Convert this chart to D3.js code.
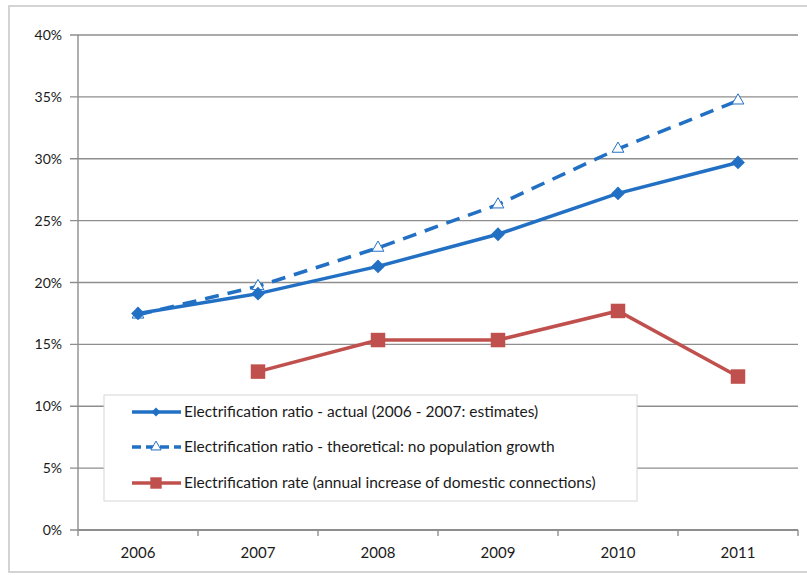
<!DOCTYPE html>
<html>
<head>
<meta charset="utf-8">
<script src="https://cdnjs.cloudflare.com/ajax/libs/d3/7.8.5/d3.min.js"></script>
<style>
  body { margin: 0; background: #fff; }
  text { font-family: Lato, "Open Sans", sans-serif; fill: #1a1a1a; }
</style>
</head>
<body>
<script>
// chart data
var years = ["2006", "2007", "2008", "2009", "2010", "2011"];
var actual = [17.5, 19.1, 21.3, 23.9, 27.2, 29.7];
var theoretical = [17.4, 19.7, 22.8, 26.3, 30.8, 34.7];
var rate = [null, 12.8, 15.35, 15.35, 17.7, 12.4];
var yTicks = [0, 5, 10, 15, 20, 25, 30, 35, 40];
var legendLabels = [
    "Electrification ratio - actual (2006 - 2007: estimates)",
    "Electrification ratio - theoretical: no population growth",
    "Electrification rate (annual increase of domestic connections)"
];

var width = 807;
var height = 575;
var blue = "#2270c4";
var red = "#c0504d";

var svg = d3.select("body").append("svg")
    .attr("width", width)
    .attr("height", height);

// outer frame
svg.append("rect")
    .attr("x", 9).attr("y", 6)
    .attr("width", 810).attr("height", 566)
    .attr("fill", "none")
    .attr("stroke", "#d4d4d4")
    .attr("stroke-width", 2);

var x = d3.scaleBand().domain(years).range([78, 798]);
var y = d3.scaleLinear().domain([0, 40]).range([530, 35]);

// gridlines
svg.append("g").selectAll("line")
    .data(yTicks)
    .enter()
    .append("line")
    .attr("x1", 70).attr("x2", 798)
    .attr("y1", d => y(d)).attr("y2", d => y(d))
    .attr("stroke", "#8e8e8e")
    .attr("stroke-width", 1.4);

// y labels
svg.append("g").selectAll("text")
    .data(yTicks)
    .enter()
    .append("text")
    .attr("x", 62)
    .attr("y", d => y(d) + 5)
    .attr("text-anchor", "end")
    .attr("font-size", "14px")
    .text(d => d + "%");

// y axis line
svg.append("line")
    .attr("x1", 78).attr("x2", 78)
    .attr("y1", y(40)).attr("y2", y(0))
    .attr("stroke", "#8e8e8e").attr("stroke-width", 1.4);

// x axis
var xAxis = svg.append("g").attr("transform", "translate(0," + y(0) + ")");
xAxis.append("line")
    .attr("x1", 78).attr("x2", 798)
    .attr("stroke", "#8e8e8e").attr("stroke-width", 2);
var xt = x.domain().map(d => x(d)).concat([x.range()[1]]);
xAxis.selectAll(".tk").data(xt).enter().append("line")
    .attr("x1", d => d).attr("x2", d => d)
    .attr("y1", 0).attr("y2", 6)
    .attr("stroke", "#8e8e8e").attr("stroke-width", 1.4);
xAxis.selectAll("text").data(years).enter().append("text")
    .attr("x", d => x(d) + x.bandwidth() / 2)
    .attr("y", 28)
    .attr("text-anchor", "middle")
    .attr("font-size", "15px")
    .text(d => d);

var cx = d => x(d) + x.bandwidth() / 2;

var line = d3.line()
    .defined(d => d[1] != null)
    .x(d => cx(d[0]))
    .y(d => y(d[1]));

function pairs(vals) { return years.map((yr, i) => [yr, vals[i]]); }

// theoretical dashed
svg.append("path")
    .datum(pairs(theoretical))
    .attr("d", line)
    .attr("fill", "none")
    .attr("stroke", blue)
    .attr("stroke-width", 3.5)
    .attr("stroke-dasharray", "14,9");
svg.append("g").selectAll("path")
    .data(pairs(theoretical))
    .enter()
    .append("path")
    .attr("transform", d => "translate(" + cx(d[0]) + "," + y(d[1]) + ")")
    .attr("d", d3.symbol().type(d3.symbolTriangle).size(60))
    .attr("fill", "#fff")
    .attr("stroke", blue)
    .attr("stroke-width", 1);

// actual
svg.append("path")
    .datum(pairs(actual))
    .attr("d", line)
    .attr("fill", "none")
    .attr("stroke", blue)
    .attr("stroke-width", 3.5);
svg.append("g").selectAll("path")
    .data(pairs(actual))
    .enter()
    .append("path")
    .attr("transform", d => "translate(" + cx(d[0]) + "," + y(d[1]) + ") rotate(45)")
    .attr("d", d3.symbol().type(d3.symbolSquare).size(95))
    .attr("fill", blue);

// rate
svg.append("path")
    .datum(pairs(rate))
    .attr("d", line)
    .attr("fill", "none")
    .attr("stroke", red)
    .attr("stroke-width", 3.5);
svg.append("g").selectAll("path")
    .data(pairs(rate).filter(d => d[1] != null))
    .enter()
    .append("path")
    .attr("transform", d => "translate(" + cx(d[0]) + "," + y(d[1]) + ")")
    .attr("d", d3.symbol().type(d3.symbolSquare).size(210))
    .attr("fill", red);

// legend
var lg = svg.append("g");
lg.append("rect")
    .attr("x", 104).attr("y", 395)
    .attr("width", 533).attr("height", 106)
    .attr("fill", "#fff")
    .attr("stroke", "#d6d6d6")
    .attr("stroke-width", 1);

var rowsY = [412, 447, 483];
var styles = [
    { color: blue, dash: null, sym: "diamond" },
    { color: blue, dash: "9,5", sym: "triangle" },
    { color: red, dash: null, sym: "square" }
];
legendLabels.forEach(function (lab, i) {
    var ry = rowsY[i];
    lg.append("line")
        .attr("x1", 132).attr("x2", 181)
        .attr("y1", ry).attr("y2", ry)
        .attr("stroke", styles[i].color)
        .attr("stroke-width", 3.5)
        .attr("stroke-dasharray", styles[i].dash);
    var s = lg.append("path");
    if (styles[i].sym == "diamond") {
        s.attr("transform", "translate(156," + ry + ") rotate(45)")
            .attr("d", d3.symbol().type(d3.symbolSquare).size(40))
            .attr("fill", blue);
    } else if (styles[i].sym == "triangle") {
        s.attr("transform", "translate(156," + ry + ")")
            .attr("d", d3.symbol().type(d3.symbolTriangle).size(45))
            .attr("fill", "#fff")
            .attr("stroke", blue).attr("stroke-width", 1);
    } else {
        s.attr("transform", "translate(156," + ry + ")")
            .attr("d", d3.symbol().type(d3.symbolSquare).size(130))
            .attr("fill", red);
    }
    lg.append("text")
        .attr("x", 184)
        .attr("y", ry + 5)
        .attr("font-size", "15.5px")
        .text(lab);
});
</script>
</body>
</html>
